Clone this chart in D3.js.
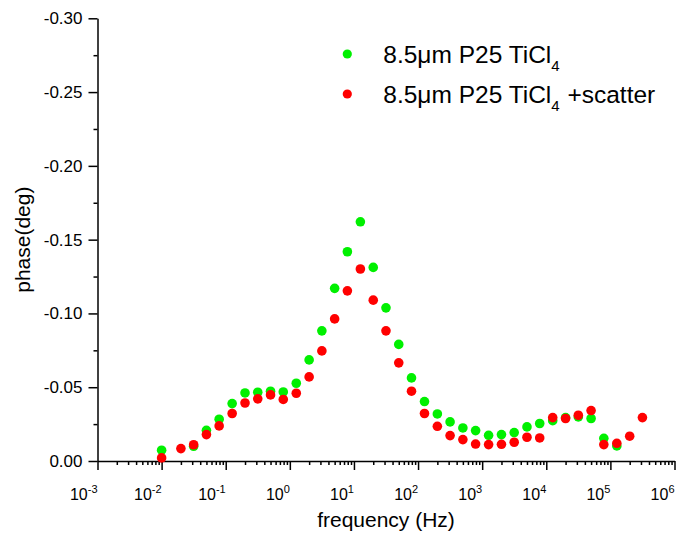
<!DOCTYPE html>
<html>
<head>
<meta charset="utf-8">
<script src="https://cdn.jsdelivr.net/npm/d3@7"></script>
<style>
  body { margin: 0; background: #fff; }
  svg text { font-family: "Liberation Sans", Arial, sans-serif; fill: #000; }
</style>
</head>
<body>
<div class="chart"></div>
<script>
// frequency (Hz)
const freq = [0.01, 0.02, 0.0316, 0.05, 0.079, 0.126, 0.2, 0.316, 0.5, 0.79,
  1.26, 2, 3.16, 5, 7.9, 12.6, 20, 31.6, 50, 79,
  126, 200, 316, 500, 790, 1260, 2000, 3160, 5000, 7900,
  12600, 20000, 31600, 50000, 79000, 126000, 200000, 316000];
// 8.5um P25 TiCl4
const phaseGreen = [-0.0073, null, -0.0100, -0.0208, -0.0283, -0.0389, -0.0461, -0.0466, -0.0473, -0.0468,
  -0.0527, -0.0685, -0.0882, -0.1170, -0.1418, -0.1621, -0.1312, -0.1038, -0.0790, -0.0563,
  -0.0403, -0.0319, -0.0265, -0.0224, -0.0206, -0.0174, -0.0179, -0.0193, -0.0231, -0.0254,
  -0.0273, -0.0294, -0.0299, -0.0288, -0.0154, -0.0102, null, null];
// 8.5um P25 TiCl4 +scatter
const phaseRed = [-0.0021, -0.0084, -0.0110, -0.0179, -0.0238, -0.0322, -0.0393, -0.0421, -0.0448, -0.0417,
  -0.0459, -0.0570, -0.0746, -0.0963, -0.1153, -0.1301, -0.1090, -0.0882, -0.0665, -0.0473,
  -0.0322, -0.0235, -0.0172, -0.0145, -0.0115, -0.0111, -0.0113, -0.0127, -0.0161, -0.0156,
  -0.0294, -0.0288, -0.0310, -0.0342, -0.0111, -0.0120, -0.0168, -0.0294];
const yTicks = [0, -0.05, -0.10, -0.15, -0.20, -0.25, -0.30];
const decades = [-3, -2, -1, 0, 1, 2, 3, 4, 5, 6];

const W = 678, H = 534;
const margin = {top: 18.3, right: 3.5, bottom: 73, left: 97.5};
const width = W - margin.left - margin.right;
const height = H - margin.top - margin.bottom;

const svg = d3.select(".chart")
  .append("svg")
    .attr("width", W)
    .attr("height", H)
  .append("g")
    .attr("transform", "translate(" + margin.left + "," + margin.top + ")");

const x = d3.scaleLog().domain([1e-3, 1e6]).range([0, width]);
const y = d3.scaleLinear().domain([0, -0.30]).range([height, 0]);

// minor x ticks
let minors = [];
decades.slice(0, -1).forEach(e => {
  for (let m = 2; m <= 9; m++) minors.push(m * Math.pow(10, e));
});
svg.append("g")
    .attr("transform", "translate(0," + height + ")")
    .call(d3.axisBottom(x).tickValues(minors).tickSize(4).tickFormat(""))
    .call(g => g.select(".domain").remove())
    .selectAll("line").attr("stroke-width", 1.5);

// major x ticks + axis line
const xAxis = svg.append("g")
    .attr("transform", "translate(0," + height + ")")
    .call(d3.axisBottom(x).tickValues(decades.map(e => Math.pow(10, e))).tickSize(9).tickSizeOuter(0).tickFormat(""));
xAxis.select(".domain").attr("stroke-width", 1.5);
xAxis.selectAll("line").attr("stroke-width", 1.5);

// decade labels
const lab = svg.append("g").selectAll("text")
  .data(decades)
  .enter().append("text")
    .attr("x", d => x(Math.pow(10, d)))
    .attr("y", height + 39)
    .attr("text-anchor", "end")
    .style("font-size", "16px");
lab.append("tspan").text("10");
lab.append("tspan")
    .attr("dy", -7)
    .style("font-size", "11px")
    .text(d => d < 0 ? "-" + Math.abs(d) : d);

// minor y ticks
svg.append("g")
    .call(d3.axisLeft(y).tickValues(d3.range(7).map(i => -0.025 - i * 0.05).filter(v => v > -0.30)).tickSize(4).tickFormat(""))
    .call(g => g.select(".domain").remove())
    .selectAll("line").attr("stroke-width", 1.5);

const yAxis = svg.append("g")
    .call(d3.axisLeft(y).tickValues(yTicks).tickSize(9).tickSizeOuter(0).tickPadding(6).tickFormat(d3.format(".2f")));
yAxis.select(".domain").attr("stroke-width", 1.5);
yAxis.selectAll("line").attr("stroke-width", 1.5);
yAxis.selectAll("text")
    .style("font-size", "17px")
    .style("font-family", "'Liberation Sans', Arial, sans-serif")
    .text(d => d === 0 ? "0.00" : d3.format(".2f")(d).replace("−", "-"));

// axis titles
svg.append("text")
    .attr("x", x(Math.sqrt(1e-3 * 1e6)))
    .attr("y", height + 66)
    .attr("text-anchor", "middle")
    .style("font-size", "21px")
    .text("frequency (Hz)");

svg.append("text")
    .attr("transform", "translate(" + (30 - margin.left) + "," + (height / 2) + ") rotate(-90)")
    .attr("text-anchor", "middle")
    .style("font-size", "21px")
    .text("phase(deg)");

// data points
const series = [
  {vals: phaseGreen, color: "#00f000"},
  {vals: phaseRed, color: "#ff0000"}
];
series.forEach(s => {
  svg.append("g").selectAll("circle")
    .data(freq.map((f, i) => [f, s.vals[i]]).filter(d => d[1] !== null))
    .enter().append("circle")
      .attr("cx", d => x(d[0]))
      .attr("cy", d => y(d[1]))
      .attr("r", 4.8)
      .style("fill", s.color);
});

// legend
const legend = svg.append("g").attr("transform", "translate(" + (347.3 - margin.left) + "," + (54 - margin.top) + ")");
[0, 1].forEach(i => {
  const row = legend.append("g").attr("transform", "translate(0," + i * 40 + ")");
  row.append("circle").attr("r", 4.6).style("fill", series[i].color);
  const t = row.append("text").attr("x", 36).attr("y", 9.3).style("font-size", "24.5px");
  t.append("tspan").text("8.5\u03bcm P25 TiCl");
  t.append("tspan").attr("dy", 8).style("font-size", "15px").text("4");
  if (i === 1) t.append("tspan").attr("dy", -8).attr("dx", 1).text(" +scatter");
});
</script>
</body>
</html>
